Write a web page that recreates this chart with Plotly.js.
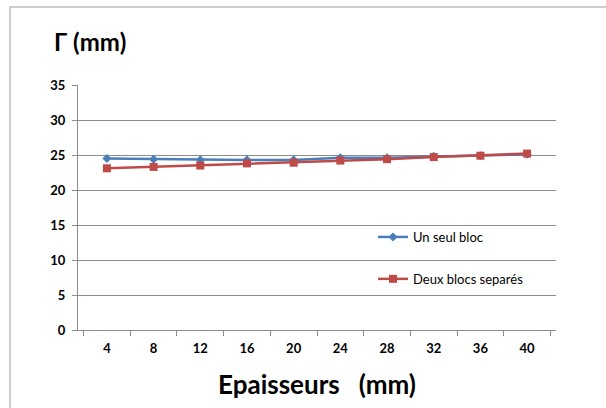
<!DOCTYPE html>
<html><head><meta charset="utf-8">
<script src="https://cdn.plot.ly/plotly-3.0.1.min.js"></script>
<style>html,body{margin:0;padding:0;background:#fff}#chart{width:606px;height:408px}</style>
</head><body><div id="chart"></div>
<script>
const categories = ["4","8","12","16","20","24","28","32","36","40"];
const unSeulBloc = [24.5,24.4,24.3,24.3,24.3,24.6,24.6,24.8,24.9,25.1];
const deuxBlocs = [23.1,23.3,23.5,23.8,23.9,24.2,24.4,24.7,24.9,25.2];
const yTicks = [0,5,10,15,20,25,30,35];

const font = "Lato, 'Open Sans', sans-serif";
const traces = [
  {x: categories, y: unSeulBloc, name: "Un seul bloc", type: "scatter", mode: "lines+markers",
   legendgroup: "a",
   line: {color: "#4A7EBB", width: 2.5}, marker: {symbol: "diamond", size: 7, color: "#4A7EBB"}},
  {x: categories, y: deuxBlocs, name: "Deux blocs separés", type: "scatter", mode: "lines+markers",
   legendgroup: "b",
   line: {color: "#BE4B48", width: 2.5}, marker: {symbol: "square", size: 8, color: "#BE4B48"}}
];
const L = 78, R = 50, W = 606 - L - R;
const layout = {
  width: 606, height: 408,
  margin: {l: L, r: R, t: 85, b: 78},
  paper_bgcolor: "#fff", plot_bgcolor: "#fff",
  font: {family: font, color: "#000"},
  title: {text: "<b>Γ (mm)</b>", font: {size: 24, family: font}, x: 54/606, xanchor: "left", y: 1 - 43/408, yanchor: "middle"},
  xaxis: {type: "category", showgrid: false, showline: true, linecolor: "#8c8c8c", linewidth: 1,
    ticks: "outside", tickson: "boundaries", ticklen: 5, tickcolor: "#8c8c8c",
    tickfont: {size: 13, family: font}, ticklabelstandoff: 6,
    tickvals: categories, ticktext: categories.map(c => "<b>" + c + "</b>"),
    title: {text: "<b>Epaisseurs   (mm)</b>", font: {size: 26, family: font}, standoff: 21}},
  yaxis: {range: [0, 35], tickvals: yTicks, ticktext: yTicks.map(v => "<b>" + v + "</b>"),
    showgrid: true, gridcolor: "#8c8c8c", gridwidth: 1, zeroline: false,
    showline: true, linecolor: "#8c8c8c", ticks: "outside", ticklen: 5, tickcolor: "#8c8c8c",
    tickfont: {size: 13, family: font}, ticklabelstandoff: 4},
  showlegend: true,
  legend: {x: (373-L)/W, xanchor: "left", y: 1 - (222-85)/245, yanchor: "top",
    font: {size: 13, family: font}, bgcolor: "rgba(255,255,255,0)", tracegroupgap: 22, traceorder: "grouped"},
  shapes: [{type: "rect", xref: "paper", yref: "paper",
    x0: (10-L)/W, x1: (620-L)/W, y0: -(420-330)/245, y1: 1 + (85-7)/245,
    line: {color: "#BFBFBF", width: 1.5}, layer: "below"}]
};
Plotly.newPlot("chart", traces, layout, {displayModeBar: false, staticPlot: true});
</script></body></html>
